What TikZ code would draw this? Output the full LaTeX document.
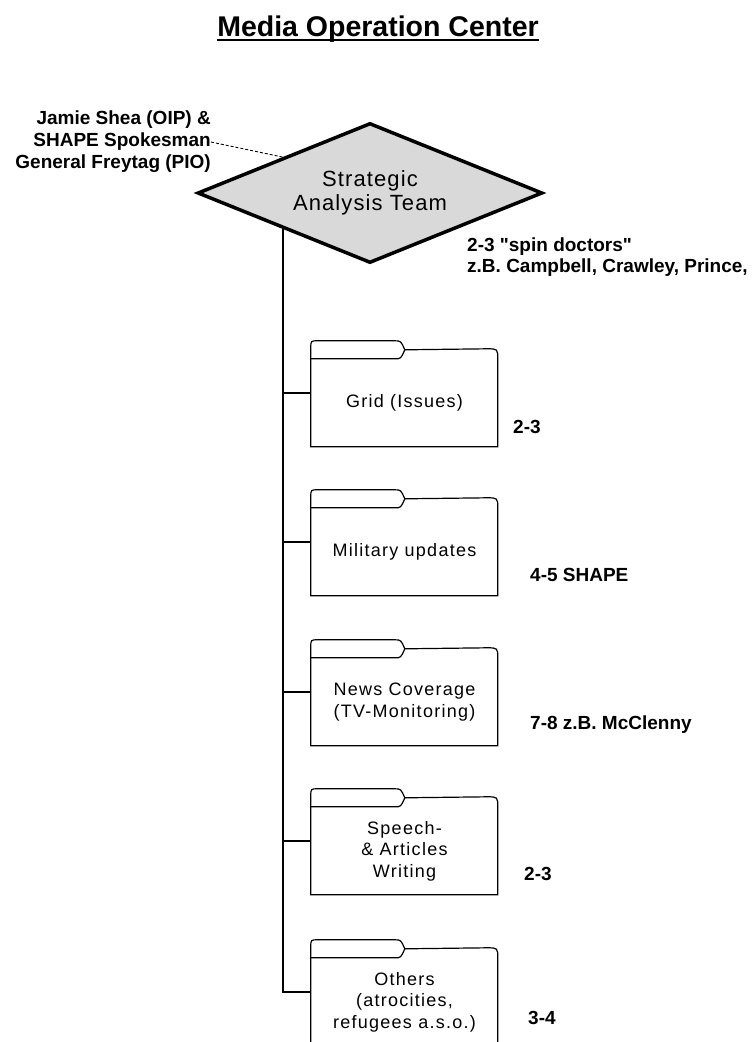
\documentclass[tikz,border=0pt]{standalone}
\usepackage{fontspec}
\setmainfont{Liberation Sans}[Ligatures=TeXOff]
\newfontfamily\spacedfont[LetterSpace=7]{Liberation Sans}
\newfontfamily\teamfont[LetterSpace=5]{Liberation Sans}
\usetikzlibrary{shapes.geometric}

\begin{document}
\begin{tikzpicture}[x=1pt, y=-1pt]
	\tikzstyle{team}     = [diamond, aspect=2.46, draw=black, line width=3.5pt, fill=black!15, minimum width=345pt, minimum height=140pt, inner sep=0pt, align=center, font=\teamfont\fontsize{22}{24}\selectfont]
	\tikzstyle{folder}   = [rectangle, minimum width=187pt, minimum height=88pt, inner sep=0pt, align=center, font=\spacedfont\fontsize{18}{21.5}\selectfont]
	\tikzstyle{sidenote} = [inner sep=0pt, anchor=west, align=left, font=\fontsize{19}{21}\selectfont\bfseries]
	\tikzstyle{tree}     = [line width=1.4pt]

	\useasboundingbox (0,0) rectangle (755,1042);

	% title
	\node[inner sep=0pt, anchor=base, font=\fontsize{28.5}{30}\selectfont\bfseries] (title) at (378,36) {Media Operation Center};
	\draw[line width=2.5pt] ([yshift=-4pt]title.base west) -- ([yshift=-4pt]title.base east);

	\node[team] (sat) at (370,193) {Strategic\\Analysis Team};

	\node[inner sep=0pt, anchor=east, align=right, font=\fontsize{19}{22}\selectfont\bfseries] (spk) at (211,142)
		{Jamie Shea (OIP) \&\\SHAPE Spokesman\\General Freytag (PIO)};
	\draw[densely dashed, line width=0.9pt] (spk.east) -- (sat.north west);

	\node[sidenote] (spin) at (467,257) {2-3 "spin doctors"\\z.B. Campbell, Crawley, Prince,};

	\foreach \name/\y/\txt in {grid/403/{Grid (Issues)}, mil/552/{Military updates}, news/702/{News Coverage\\(TV-Monitoring)},
		speech/851/{Speech-\\\& Articles\\Writing}, others/1002/{Others\\(atrocities,\\refugees a.s.o.)}}
	{
		\node[folder] (\name) at (404.5,\y) {\txt};
		\draw[shift={(\name.north west)}, line width=1.2pt] (0,88) -- (0,-11) .. controls (0,-18) .. (7,-18) -- (84,-18)
			.. controls (90,-18) .. (94,-9) -- (176,-10) .. controls (187,-10) .. (187,1) -- (187,88) -- cycle;
		\draw[shift={(\name.north west)}, line width=1.2pt] (0,0) -- (84,0) .. controls (90,0) .. (94,-9);
	}

	\foreach \name/\x/\y/\txt in {n1/513/427/{2-3}, n2/530/575/{4-5 SHAPE}, n3/530/725/{7-8 z.B. McClenny},
		n4/524/874/{2-3}, n5/528/1018/{3-4}}
		\node[sidenote] (\name) at (\x,\y) {\txt};

	\foreach \to in {grid, mil, news, speech, others}
		\draw[tree] (sat.south west) |- ([yshift=10pt]\to.west);

\end{tikzpicture}
\end{document}
